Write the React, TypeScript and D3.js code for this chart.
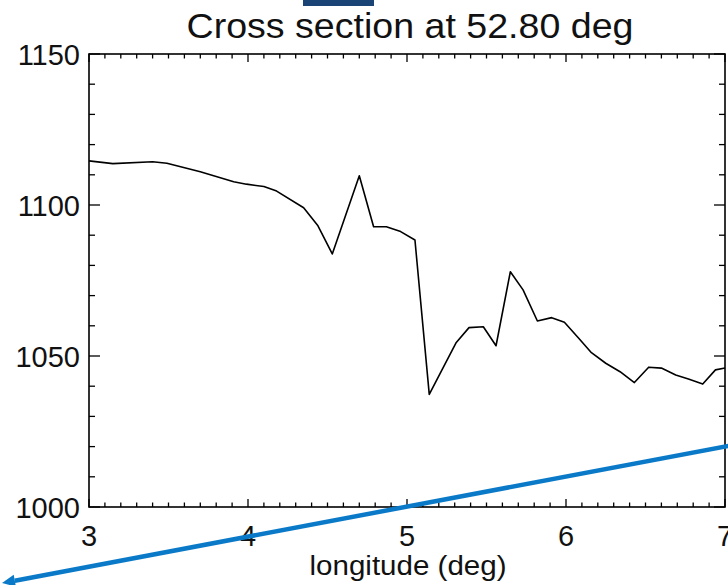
import React from "react";
import * as d3 from "d3";

const lonValues = [3.0, 3.15, 3.4, 3.49, 3.7, 3.91, 3.99, 4.1, 4.18, 4.35, 4.44, 4.53, 4.7, 4.79, 4.87, 4.96, 5.05, 5.14, 5.22, 5.31, 5.39, 5.48, 5.56, 5.65, 5.73, 5.82, 5.91, 5.99, 6.08, 6.16, 6.25, 6.34, 6.43, 6.52, 6.6, 6.69, 6.77, 6.86, 6.94, 7.0];
const sectionValues = [1114.6, 1113.7, 1114.3, 1113.8, 1111.0, 1107.7, 1106.9, 1106.1, 1104.6, 1099.1, 1093.1, 1083.8, 1109.7, 1092.8, 1092.8, 1091.2, 1088.4, 1037.3, 1045.4, 1054.5, 1059.4, 1059.7, 1053.4, 1077.9, 1071.9, 1061.6, 1062.7, 1061.2, 1055.9, 1051.1, 1047.6, 1044.8, 1041.2, 1046.3, 1046.0, 1043.7, 1042.4, 1040.7, 1045.4, 1046.0];
const xTicks = [3, 4, 5, 6, 7];
const yTicks = [1000, 1050, 1100, 1150];
const arrowStart = [7.3, 1023];
const arrowEnd = [2.453, 974.8];
const title = "Cross section at 52.80 deg";
const xLabel = "longitude (deg)";

export default function App() {
  const W = 728, H = 585;
  const left = 89, right = 725, top = 54, bottom = 507;
  const x = d3.scaleLinear().domain([3, 7]).range([left, right]);
  const y = d3.scaleLinear().domain([1000, 1150]).range([bottom, top]);
  const line = d3.line<number>().x((_, i) => x(lonValues[i])).y((d) => y(d));
  const xMinor = d3.range(3, 7.0001, 0.1);
  const yMinor = d3.range(1000, 1150.001, 10);
  const font = "'Liberation Sans', Arial, Helvetica, sans-serif";
  const ax = x(arrowEnd[0]), ay = y(arrowEnd[1]);
  const bx = x(arrowStart[0]), by = y(arrowStart[1]);
  const ang = Math.atan2(ay - by, ax - bx);
  const headLen = 13, headW = 6;
  const hx = ax - headLen * Math.cos(ang), hy = ay - headLen * Math.sin(ang);
  const head = [
    [ax, ay],
    [hx + headW * Math.sin(ang), hy - headW * Math.cos(ang)],
    [hx - headW * Math.sin(ang), hy + headW * Math.cos(ang)],
  ];
  return (
    <svg width={W} height={H} style={{ position: "absolute", left: 0, top: 0, background: "#fff" }}>
      <rect x={303} y={0} width={71} height={6} fill="#1b4476" />
      <text x={(left + right) / 2 + 3} y={38} textAnchor="middle" fontFamily={font} fontSize={35} textLength={447} lengthAdjust="spacingAndGlyphs" fill="#111">{title}</text>
      <path d={line(sectionValues) || ""} fill="none" stroke="#000" strokeWidth={1.6} strokeLinejoin="round" />
      <rect x={left} y={top} width={right - left} height={bottom - top} fill="none" stroke="#000" strokeWidth={1.6} />
      {xMinor.map((t, i) => {
        const major = Math.abs(t - Math.round(t)) < 1e-6;
        const len = major ? 8 : 4.5;
        return (
          <g key={"xm" + i}>
            <line x1={x(t)} x2={x(t)} y1={bottom} y2={bottom - len} stroke="#000" strokeWidth={1.3} />
            <line x1={x(t)} x2={x(t)} y1={top} y2={top + len} stroke="#000" strokeWidth={1.3} />
          </g>
        );
      })}
      {yMinor.map((t, i) => {
        const major = Math.abs(t / 50 - Math.round(t / 50)) < 1e-6;
        const len = major ? 11 : 6;
        return (
          <g key={"ym" + i}>
            <line x1={left} x2={left + len} y1={y(t)} y2={y(t)} stroke="#000" strokeWidth={1.3} />
            <line x1={right} x2={right - len} y1={y(t)} y2={y(t)} stroke="#000" strokeWidth={1.3} />
          </g>
        );
      })}
      {xTicks.map((t) => (
        <text key={"xt" + t} x={x(t)} y={546} textAnchor="middle" fontFamily={font} fontSize={29} fill="#111">{t}</text>
      ))}
      {yTicks.map((t) => (
        <text key={"yt" + t} x={80} y={y(t) + 11} textAnchor="end" fontFamily={font} fontSize={29} fill="#111">{t}</text>
      ))}
      <text x={(left + right) / 2 + 1} y={575} textAnchor="middle" fontFamily={font} fontSize={27} textLength={197} lengthAdjust="spacingAndGlyphs" fill="#111">{xLabel}</text>
      <line x1={bx} y1={by} x2={hx} y2={hy} stroke="#0a7ac8" strokeWidth={4.5} />
      <polygon points={head.map((p) => p.join(",")).join(" ")} fill="#0a7ac8" />
    </svg>
  );
}
